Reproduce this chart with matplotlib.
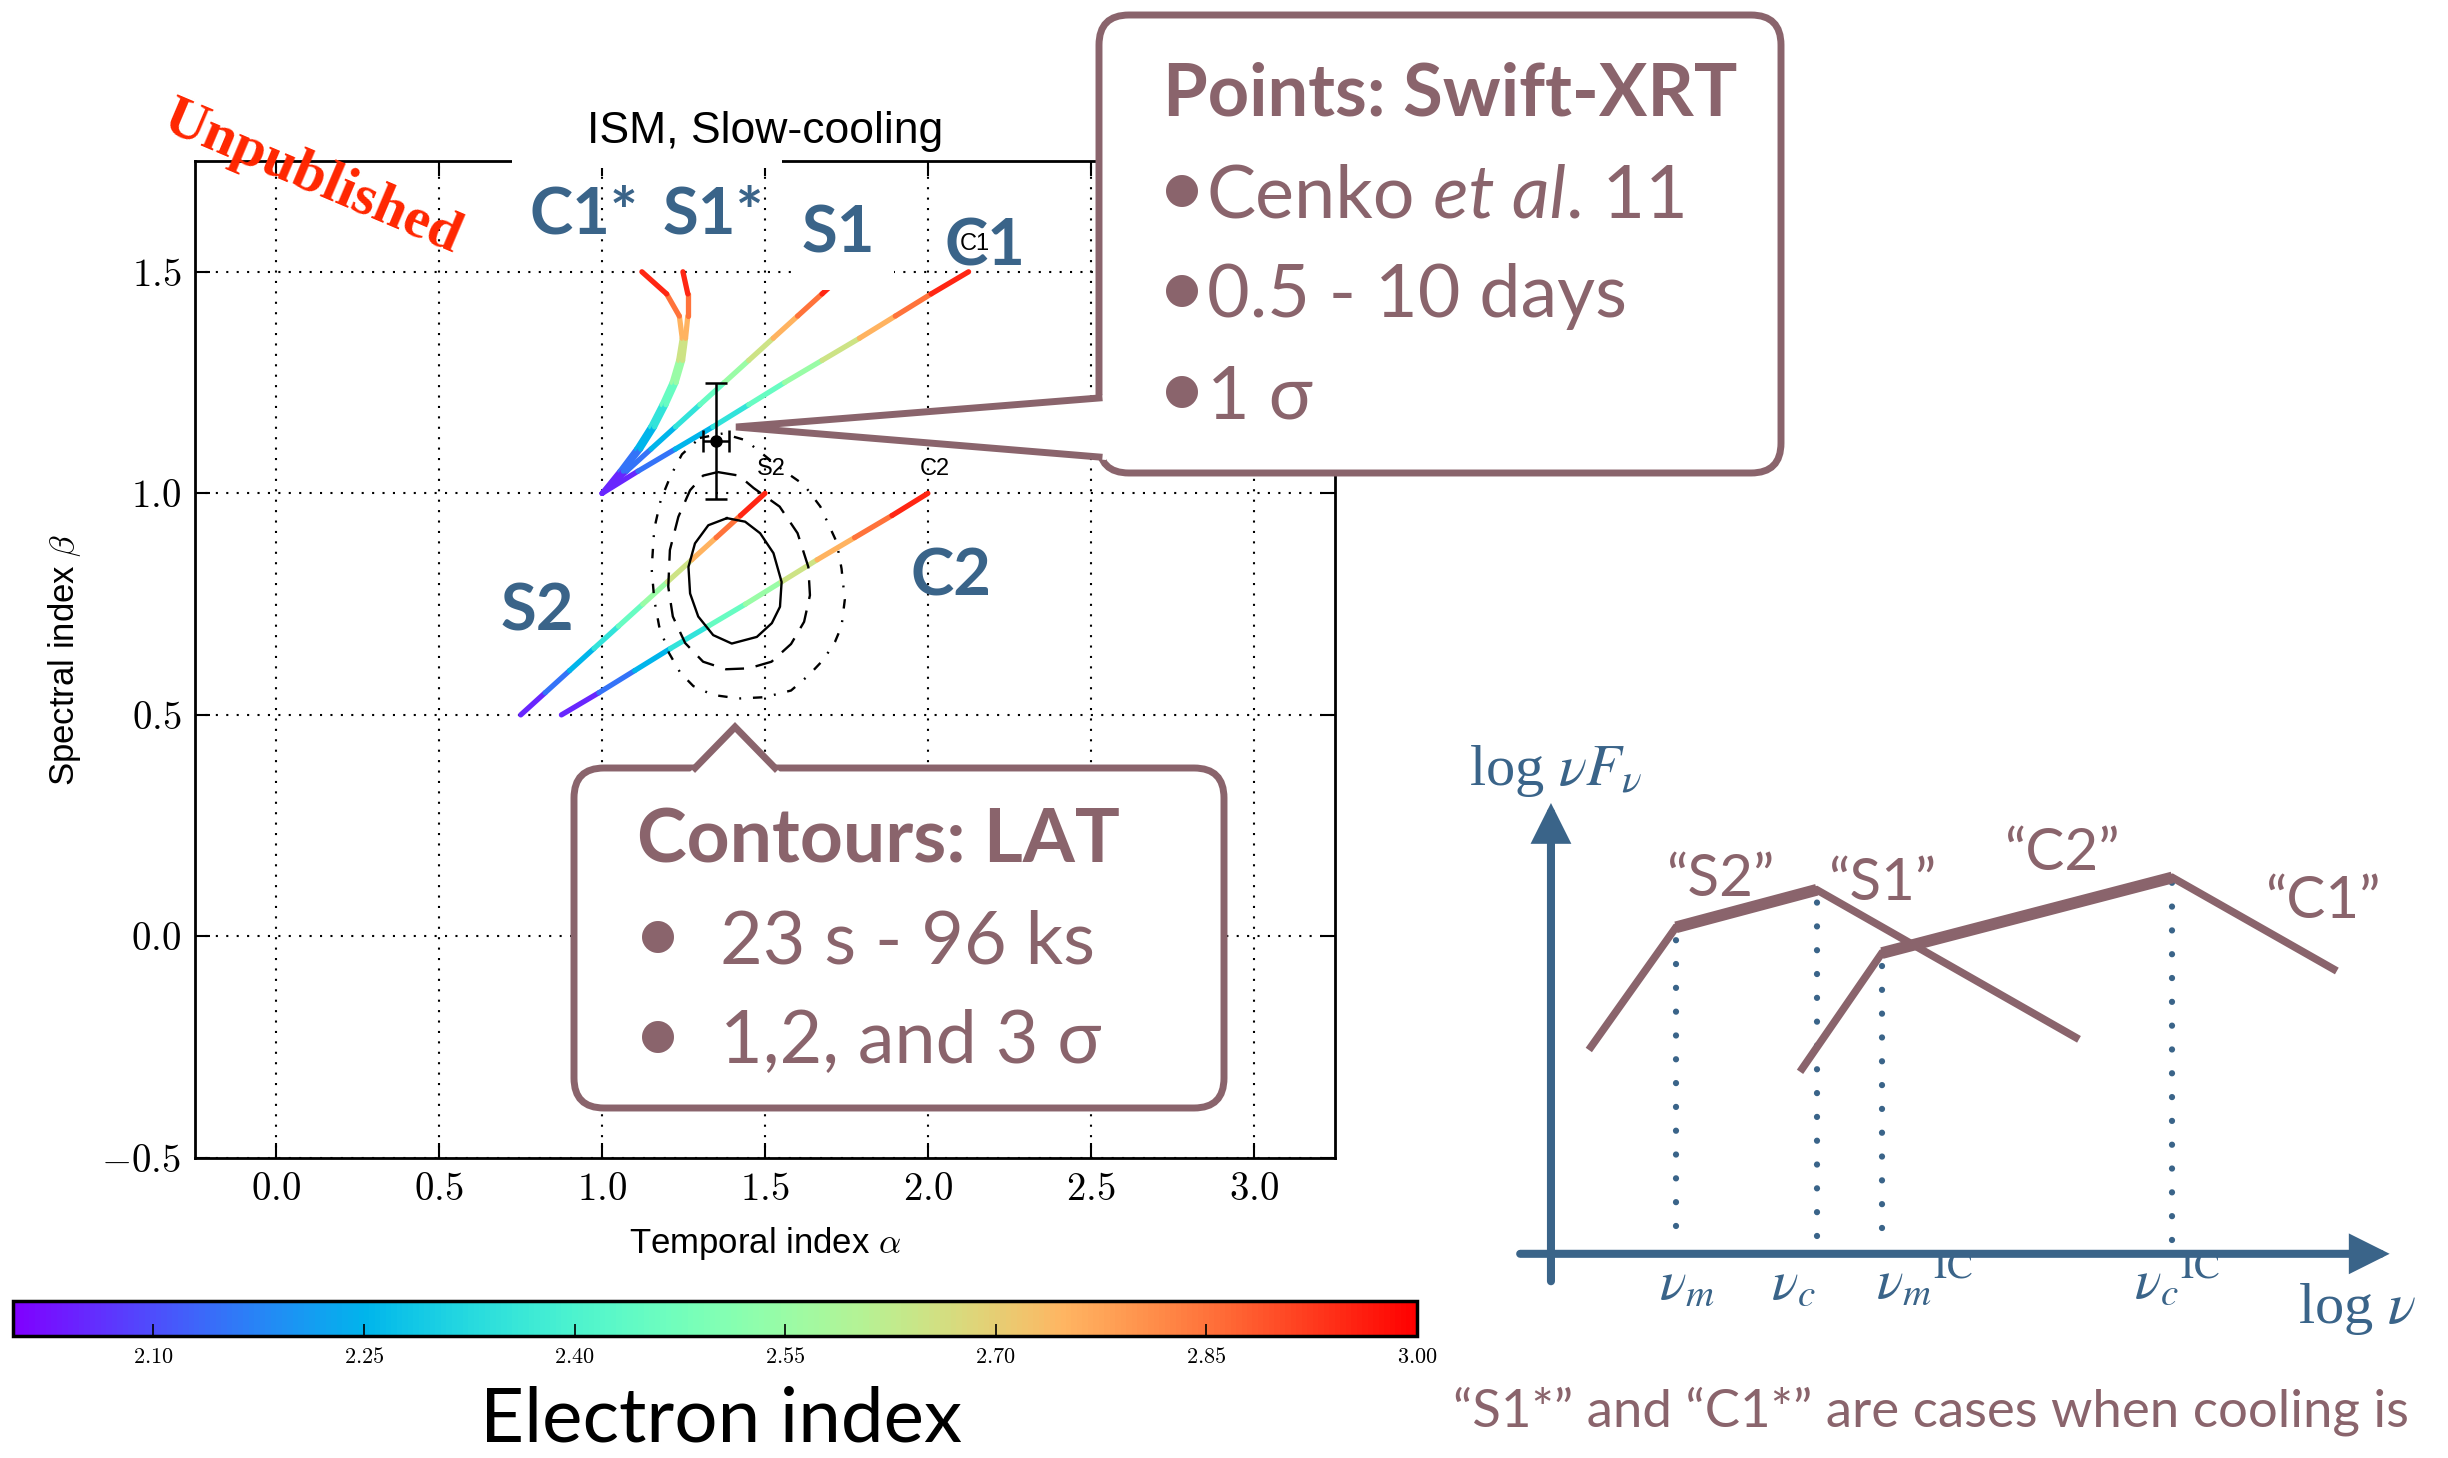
import numpy as np
import matplotlib
matplotlib.use('Agg')
import matplotlib.pyplot as plt
from matplotlib import colors, cm
from matplotlib.collections import LineCollection
from matplotlib.patches import FancyBboxPatch, Polygon, Rectangle
from matplotlib.ticker import MultipleLocator, FuncFormatter

plt.rcParams['mathtext.fontset'] = 'cm'
plt.rcParams['font.family'] = ['Liberation Sans', 'DejaVu Sans']

MAUVE = '#8a646c'
BLUE = '#3a6489'
SANS = ['Lato', 'DejaVu Sans']

# electron index p along every closure track
p_vals = [2.0, 2.1, 2.2, 2.3, 2.4, 2.5, 2.6, 2.7, 2.8, 2.9, 3.0]

# tracks (temporal index alpha, spectral index beta)
s1_alpha = [1.0, 1.075, 1.15, 1.225, 1.3, 1.375, 1.45, 1.525, 1.6, 1.675, 1.75]
c1_alpha = [1.0, 1.11, 1.225, 1.34, 1.45, 1.56, 1.675, 1.79, 1.9, 2.01, 2.125]
upper_beta = [1.0, 1.05, 1.1, 1.15, 1.2, 1.25, 1.3, 1.35, 1.4, 1.45, 1.5]
s2_alpha = [0.75, 0.825, 0.9, 0.975, 1.05, 1.125, 1.2, 1.275, 1.35, 1.425, 1.5]
c2_alpha = [0.875, 0.99, 1.1, 1.21, 1.325, 1.44, 1.55, 1.66, 1.775, 1.89, 2.0]
lower_beta = [0.5, 0.55, 0.6, 0.65, 0.7, 0.75, 0.8, 0.85, 0.9, 0.95, 1.0]
s1s_alpha = [1.0, 1.065, 1.118, 1.161, 1.196, 1.227, 1.247, 1.256, 1.263, 1.263, 1.248]
c1s_alpha = [1.0, 1.055, 1.106, 1.149, 1.184, 1.215, 1.235, 1.246, 1.237, 1.198, 1.122]

# LAT contours (1, 2, 3 sigma)
lat1_x = [1.383, 1.439, 1.485, 1.526, 1.551, 1.546, 1.521, 1.475, 1.398, 1.341, 1.295, 1.270, 1.265, 1.285, 1.326]
lat1_y = [0.944, 0.936, 0.910, 0.865, 0.800, 0.744, 0.707, 0.676, 0.661, 0.680, 0.722, 0.774, 0.834, 0.887, 0.928]
lat2_x = [1.355, 1.42, 1.465, 1.545, 1.60, 1.633, 1.638, 1.62, 1.58, 1.52, 1.45, 1.38, 1.31, 1.255, 1.217, 1.203, 1.208, 1.234, 1.27, 1.31]
lat2_y = [1.048, 1.04, 1.012, 0.97, 0.91, 0.834, 0.77, 0.71, 0.66, 0.62, 0.605, 0.603, 0.62, 0.662, 0.722, 0.789, 0.872, 0.947, 1.007, 1.04]
lat3_x = [1.30, 1.37, 1.44, 1.55, 1.62, 1.67, 1.72, 1.735, 1.745, 1.735, 1.715, 1.68, 1.635, 1.58, 1.50, 1.42, 1.34, 1.28, 1.24, 1.205, 1.175, 1.16, 1.152, 1.16, 1.18, 1.21, 1.245]
lat3_y = [1.125, 1.135, 1.12, 1.055, 1.019, 0.97, 0.89, 0.83, 0.76, 0.70, 0.665, 0.625, 0.59, 0.555, 0.540, 0.537, 0.545, 0.565, 0.595, 0.64, 0.70, 0.76, 0.83, 0.92, 0.985, 1.039, 1.088]

# Swift-XRT point
xrt_alpha, xrt_alpha_err = 1.35, 0.041
xrt_beta, xrt_beta_err = 1.118, 0.13

cb_ticks = [2.10, 2.25, 2.40, 2.55, 2.70, 2.85, 3.00]

# sketch of the spectra (arbitrary log units)
sed_s_x = [0.43, 1.42, 3.02, 6.0]
sed_s_y = [3.64, 5.83, 6.5, 3.83]
sed_c_x = [2.83, 3.76, 7.06, 8.93]
sed_c_y = [3.25, 5.37, 6.72, 5.05]
break_x = [1.42, 3.02, 3.76, 7.06]
break_top = [5.68, 6.35, 5.19, 6.67]
break_bottom = [0.50, 0.32, 0.46, 0.25]
break_labels = [r'$\nu_m$', r'$\nu_c$', r'$\nu_m{}^{\mathrm{IC}}$', r'$\nu_c{}^{\mathrm{IC}}$']
break_label_x = [1.23, 2.50, 3.69, 6.63]

W, H = 2448, 1458
fig = plt.figure(figsize=(W / 100, H / 100), dpi=100)

# ---- main alpha-beta plane
ax = fig.add_axes([195 / W, 1 - 1158 / H, 1140 / W, 997 / H])
ax.set_xlim(-0.25, 3.25)
ax.set_ylim(-0.5, 1.75)
norm = colors.Normalize(2.0, 3.0)
cmap = plt.get_cmap('rainbow')


def track(a, b):
    pts = np.column_stack([a, b])
    segs = np.stack([pts[:-1], pts[1:]], axis=1)
    pm = 0.5 * (np.array(p_vals[:-1]) + np.array(p_vals[1:]))
    lc = LineCollection(segs, colors=cmap(norm(pm)), linewidths=3.8,
                        capstyle='round', joinstyle='round', zorder=3)
    ax.add_collection(lc)


track(s2_alpha, lower_beta)
track(c2_alpha, lower_beta)
track(s1_alpha, upper_beta)
track(c1_alpha, upper_beta)
track(c1s_alpha, upper_beta)
track(s1s_alpha, upper_beta)

ax.plot(lat1_x + lat1_x[:1], lat1_y + lat1_y[:1], color='k', lw=1.7, zorder=4)
ax.plot(lat2_x + lat2_x[:1], lat2_y + lat2_y[:1], color='k', lw=1.7,
        linestyle=(0, (8, 5)), zorder=4)
ax.plot(lat3_x + lat3_x[:1], lat3_y + lat3_y[:1], color='k', lw=1.7,
        linestyle=(0, (4, 5, 0.8, 5)), zorder=4)

ax.errorbar(xrt_alpha, xrt_beta, xerr=xrt_alpha_err, yerr=xrt_beta_err, fmt='o',
            color='k', ms=8, capsize=8, elinewidth=1.8, capthick=1.8, zorder=6)

ax.text(1.52, 1.03, 'S2', fontsize=17, ha='center', va='bottom', zorder=5)
ax.text(2.02, 1.03, 'C2', fontsize=17, ha='center', va='bottom', zorder=5)
ax.text(2.145, 1.538, 'C1', fontsize=17, ha='center', va='bottom', zorder=5)

ax.xaxis.set_major_locator(MultipleLocator(0.5))
ax.yaxis.set_major_locator(MultipleLocator(0.5))
fmt = FuncFormatter(lambda v, pos: r'$%.1f$' % v)
ax.xaxis.set_major_formatter(fmt)
ax.yaxis.set_major_formatter(fmt)
ax.tick_params(direction='in', length=11, width=1.5, top=True, right=True,
               labelsize=28, pad=10)
ax.grid(True, color='k', lw=1.5, linestyle=(0, (1, 4)))
for sp in ax.spines.values():
    sp.set_linewidth(2)
ax.set_title('ISM, Slow-cooling', fontsize=32, pad=13)
ax.set_xlabel(r'Temporal index $\alpha$', fontsize=25, labelpad=12)
ax.set_ylabel(r'Spectral index $\beta$', fontsize=25, labelpad=13)

# ---- colour bar
cax = fig.add_axes([13 / W, 1 - 1336 / H, 1404 / W, 35 / H])
sm = cm.ScalarMappable(norm=norm, cmap=cmap)
cb = fig.colorbar(sm, cax=cax, orientation='horizontal', ticks=cb_ticks)
cb.set_ticklabels([r'$%.2f$' % t for t in cb_ticks])
cb.ax.tick_params(direction='in', length=9, width=1.2, labelsize=16, pad=8)
cb.outline.set_linewidth(2.5)

# ---- spectrum sketch
sx = fig.add_axes([1470 / W, 1 - 1340 / H, 950 / W, 580 / H])
sx.set_xlim(-0.92, 9.875)
sx.set_ylim(-1.539, 8.818)
sx.axis('off')
arrow = dict(arrowstyle='-|>,head_length=1.0,head_width=0.5', color=BLUE, lw=5.8,
             mutation_scale=20, shrinkA=0, shrinkB=0, joinstyle='miter')
sx.annotate('', xy=(0, 8.05), xytext=(0, -0.49), arrowprops=arrow)
sx.annotate('', xy=(9.53, 0), xytext=(-0.35, 0), arrowprops=arrow)
for bx, bt, bb in zip(break_x, break_top, break_bottom):
    sx.plot([bx, bx], [bb, bt], color=BLUE, lw=4.5, linestyle=(0, (0.01, 3.8)),
            dash_capstyle='round')
for xs, ys in [(sed_s_x, sed_s_y), (sed_c_x, sed_c_y)]:
    sx.plot(xs, ys, color=MAUVE, lw=5.5, solid_joinstyle='miter', solid_capstyle='butt')
    sx.plot(xs[1:3], ys[1:3], color=MAUVE, lw=8.5, solid_capstyle='butt')
for lab, lx in zip(break_labels, break_label_x):
    sx.text(lx, -0.80, lab, fontsize=40, color=BLUE, math_fontfamily='stix',
            ha='left', va='baseline')
sx.text(-0.93, 8.37, r'log $\nu F_\nu$', fontsize=42, color=BLUE,
        family='Liberation Serif', math_fontfamily='stix', va='baseline')
sx.text(8.49, -1.24, r'log $\nu$', fontsize=42, color=BLUE,
        family='Liberation Serif', math_fontfamily='stix', va='baseline')
for lab, lx, ly in [('\u201cS2\u201d', 1.93, 6.39), ('\u201cS1\u201d', 3.76, 6.32),
                    ('\u201cC2\u201d', 5.81, 6.85), ('\u201cC1\u201d', 8.77, 6.0)]:
    sx.text(lx, ly, lab, fontsize=42, color=MAUVE, family=SANS,
            ha='center', va='baseline')

# ---- overlay in pixel coordinates for the slide annotations
ov = fig.add_axes([0, 0, 1, 1], zorder=5)
ov.set_xlim(0, W)
ov.set_ylim(H, 0)
ov.axis('off')
renderer = fig.canvas.get_renderer()

# white patches that hide parts of the frame / grid under the labels
ov.add_patch(Rectangle((512, 154), 270, 14, fc='white', ec='none', zorder=1))
ov.add_patch(Rectangle((793, 195), 101, 95, fc='white', ec='none', zorder=1))

for lab, lx, ly in [('C1*', 584, 233), ('S1*', 713, 233), ('S1', 838, 252),
                    ('C1', 985, 265), ('S2', 537, 630), ('C2', 951, 595)]:
    ov.text(lx, ly, lab, fontsize=47, color=BLUE, family=SANS, weight='bold',
            ha='center', va='baseline', zorder=3)

ov.text(312, 178, 'Unpublished', rotation=-23, rotation_mode='anchor', color='#ff2600',
        fontsize=42, family='Liberation Serif', weight='bold', ha='center', va='center')


def callout(x0, y0, w, h, tip, base_a, base_b, fill_pts):
    ov.add_patch(FancyBboxPatch((x0, y0), w, h, boxstyle='round,pad=0,rounding_size=30',
                                fc='white', ec=MAUVE, lw=5, zorder=10))
    ov.add_patch(Polygon(fill_pts, closed=True, fc='white', ec='none', zorder=11))
    ov.plot([base_a[0], tip[0], base_b[0]], [base_a[1], tip[1], base_b[1]],
            color=MAUVE, lw=5, solid_joinstyle='miter', zorder=12)


def runs(x, y, pieces, size):
    for s, style in pieces:
        t = ov.text(x, y, s, fontsize=size, color=MAUVE, family=SANS, style=style,
                    va='baseline', ha='left', zorder=13)
        x += t.get_window_extent(renderer).width


# Swift-XRT box
callout(1099, 15, 682, 458, (736, 427), (1099, 398), (1099, 457),
        [(736, 427), (1106, 395), (1106, 460)])
ov.text(1163, 115, 'Points: Swift-XRT', fontsize=52, color=MAUVE, family=SANS,
        weight='bold', va='baseline', zorder=13)
for yb, pieces in [(217, [('Cenko', 'normal'), (' et al', 'italic'), ('. 11', 'normal')]),
                   (317, [('0.5 - 10 days', 'normal')]),
                   (418, [('1 \u03c3', 'normal')])]:
    ov.text(1157, yb, '\u2022', fontsize=62, color=MAUVE, family=SANS,
            va='baseline', zorder=13)
    runs(1207, yb, pieces, 53)

# LAT box
callout(574, 768, 650, 340, (735, 727), (695, 768), (775, 768),
        [(735, 727), (690, 772), (780, 772)])
ov.text(637, 862, 'Contours: LAT', fontsize=54, color=MAUVE, family=SANS,
        weight='bold', va='baseline', zorder=13)
for yb, txt in [(963, '23 s - 96 ks'), (1063, '1,2, and 3 \u03c3')]:
    ov.text(633, yb, '\u2022', fontsize=62, color=MAUVE, family=SANS,
            va='baseline', zorder=13)
    runs(720, yb, [(txt, 'normal')], 53)

ov.text(721, 1442, 'Electron index', fontsize=55, color='k', family=SANS,
        ha='center', va='baseline')
ov.text(1453, 1427, '\u201cS1*\u201d and \u201cC1*\u201d are cases when cooling is',
        fontsize=38, color=MAUVE, family=SANS, va='baseline')

fig.savefig('out.png', dpi=100)
